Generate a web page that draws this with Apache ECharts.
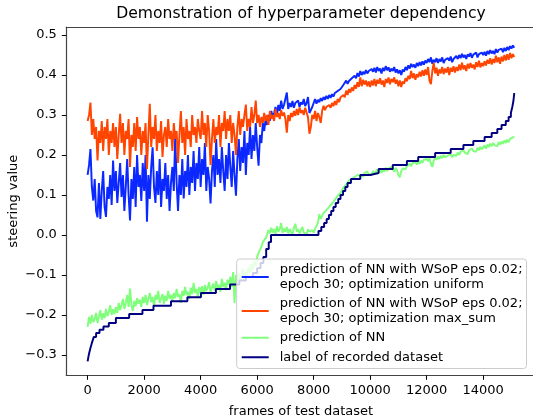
<!DOCTYPE html>
<html>
<head>
<meta charset="utf-8">
<script src="https://cdn.jsdelivr.net/npm/echarts@6/dist/echarts.min.js"></script>
<style>html,body{margin:0;padding:0;background:#fff}#c{width:533px;height:420px}</style>
</head>
<body>
<div id="c"></div>
<script>
// ---- data (sampled every 50 frames) ----
const frameStep = 50;
const xTicks = [0, 2000, 4000, 6000, 8000, 10000, 12000, 14000];
const yTicks = [-0.3, -0.2, -0.1, 0, 0.1, 0.2, 0.3, 0.4, 0.5];
const seriesNames = [
  'prediction of NN with WSoP eps 0.02;\nepoch 30; optimization uniform',
  'prediction of NN with WSoP eps 0.02;\nepoch 30; optimization max_sum',
  'prediction of NN',
  'label of recorded dataset'
];
const uniformPred = [
  0.150, 0.175, 0.215, 0.120, 0.086, 0.140, 0.060, 0.044, 0.130, 0.040, 0.110, 0.160, 0.070, 0.045, 0.120, 0.090, 0.150, 0.075, 0.186, 0.110,
  0.160, 0.080, 0.130, 0.180, 0.095, 0.150, 0.060, 0.120, 0.190, 0.100, 0.036, 0.140, 0.090, 0.170, 0.070, 0.200, 0.120, 0.150, 0.085, 0.180,
  0.110, 0.200, 0.033, 0.150, 0.090, 0.170, 0.219, 0.120, 0.080, 0.160, 0.100, 0.190, 0.070, 0.140, 0.110, 0.180, 0.090, 0.150, 0.060, 0.130,
  0.170, 0.110, 0.248, 0.130, 0.060, 0.150, 0.100, 0.190, 0.091, 0.160, 0.120, 0.200, 0.100, 0.170, 0.130, 0.210, 0.110, 0.180, 0.140, 0.220,
  0.120, 0.190, 0.150, 0.230, 0.110, 0.170, 0.140, 0.079, 0.160, 0.200, 0.120, 0.240, 0.150, 0.190, 0.130, 0.220, 0.160, 0.110, 0.200, 0.140,
  0.230, 0.170, 0.120, 0.210, 0.150, 0.098, 0.190, 0.240, 0.160, 0.220, 0.180, 0.260, 0.150, 0.230, 0.200, 0.270, 0.190, 0.250, 0.210, 0.280,
  0.220, 0.173, 0.250, 0.230, 0.280, 0.260, 0.290, 0.275, 0.300, 0.285, 0.310, 0.295, 0.305, 0.320, 0.300, 0.325, 0.310, 0.336, 0.315, 0.325,
  0.330, 0.356, 0.315, 0.330, 0.320, 0.335, 0.318, 0.330, 0.325, 0.336, 0.320, 0.332, 0.326, 0.340, 0.322, 0.330, 0.345, 0.305, 0.300, 0.320,
  0.330, 0.340, 0.328, 0.338, 0.332, 0.342, 0.335, 0.345, 0.338, 0.348, 0.340, 0.350, 0.343, 0.352, 0.346, 0.355, 0.350, 0.360, 0.355, 0.365,
  0.368, 0.375, 0.370, 0.386, 0.378, 0.385, 0.382, 0.392, 0.388, 0.398, 0.392, 0.405, 0.396, 0.410, 0.400, 0.408, 0.402, 0.412, 0.404, 0.410,
  0.405, 0.415, 0.408, 0.418, 0.406, 0.420, 0.410, 0.416, 0.404, 0.418, 0.410, 0.422, 0.412, 0.419, 0.408, 0.416, 0.410, 0.420, 0.406, 0.414,
  0.404, 0.412, 0.400, 0.414, 0.408, 0.420, 0.412, 0.424, 0.416, 0.428, 0.420, 0.426, 0.418, 0.430, 0.422, 0.432, 0.424, 0.434, 0.426, 0.436,
  0.430, 0.440, 0.432, 0.444, 0.428, 0.438, 0.432, 0.442, 0.430, 0.440, 0.434, 0.444, 0.430, 0.438, 0.434, 0.442, 0.436, 0.446, 0.432, 0.440,
  0.438, 0.448, 0.440, 0.450, 0.442, 0.453, 0.444, 0.450, 0.440, 0.452, 0.446, 0.455, 0.443, 0.451, 0.447, 0.456, 0.444, 0.452, 0.448, 0.456,
  0.450, 0.458, 0.448, 0.460, 0.452, 0.462, 0.454, 0.460, 0.452, 0.465, 0.456, 0.463, 0.458, 0.466, 0.457, 0.468, 0.460, 0.470, 0.462, 0.472,
  0.466, 0.474, 0.468
];
const maxSumPred = [
  0.285, 0.300, 0.331, 0.250, 0.290, 0.240, 0.270, 0.186, 0.260, 0.230, 0.285, 0.210, 0.270, 0.240, 0.290, 0.200, 0.260, 0.230, 0.280, 0.220,
  0.270, 0.190, 0.250, 0.303, 0.230, 0.280, 0.200, 0.260, 0.240, 0.290, 0.170, 0.250, 0.220, 0.280, 0.210, 0.295, 0.240, 0.270, 0.200, 0.260,
  0.230, 0.280, 0.165, 0.250, 0.328, 0.220, 0.270, 0.240, 0.300, 0.210, 0.260, 0.230, 0.285, 0.195, 0.250, 0.270, 0.220, 0.290, 0.240, 0.260,
  0.210, 0.280, 0.240, 0.260, 0.180, 0.250, 0.310, 0.230, 0.270, 0.200, 0.290, 0.240, 0.260, 0.220, 0.300, 0.250, 0.270, 0.230, 0.290, 0.260,
  0.240, 0.310, 0.250, 0.280, 0.220, 0.300, 0.260, 0.175, 0.240, 0.290, 0.230, 0.270, 0.250, 0.300, 0.220, 0.280, 0.260, 0.310, 0.240, 0.290,
  0.260, 0.300, 0.230, 0.280, 0.250, 0.200, 0.270, 0.310, 0.250, 0.290, 0.270, 0.300, 0.326, 0.260, 0.290, 0.270, 0.320, 0.280, 0.300, 0.336,
  0.280, 0.300, 0.270, 0.295, 0.280, 0.305, 0.285, 0.300, 0.275, 0.310, 0.290, 0.300, 0.285, 0.315, 0.295, 0.305, 0.290, 0.312, 0.298, 0.306,
  0.290, 0.256, 0.300, 0.285, 0.305, 0.295, 0.310, 0.298, 0.315, 0.300, 0.319, 0.305, 0.312, 0.300, 0.318, 0.306, 0.294, 0.253, 0.270, 0.300,
  0.290, 0.310, 0.285, 0.305, 0.295, 0.280, 0.310, 0.323, 0.312, 0.320, 0.315, 0.325, 0.318, 0.330, 0.322, 0.335, 0.325, 0.340, 0.332, 0.344,
  0.340, 0.350, 0.344, 0.361, 0.350, 0.365, 0.356, 0.369, 0.360, 0.375, 0.366, 0.382, 0.370, 0.394, 0.372, 0.388, 0.376, 0.386, 0.372, 0.384,
  0.370, 0.386, 0.374, 0.390, 0.372, 0.388, 0.378, 0.392, 0.376, 0.386, 0.370, 0.390, 0.380, 0.394, 0.377, 0.390, 0.382, 0.394, 0.378, 0.388,
  0.372, 0.386, 0.370, 0.384, 0.378, 0.392, 0.384, 0.398, 0.390, 0.410, 0.392, 0.404, 0.388, 0.402, 0.394, 0.408, 0.396, 0.412, 0.398, 0.414,
  0.400, 0.420, 0.386, 0.377, 0.410, 0.430, 0.404, 0.418, 0.398, 0.414, 0.404, 0.420, 0.402, 0.416, 0.406, 0.420, 0.400, 0.418, 0.408, 0.422,
  0.406, 0.420, 0.410, 0.426, 0.412, 0.431, 0.414, 0.424, 0.410, 0.428, 0.416, 0.430, 0.418, 0.426, 0.414, 0.432, 0.420, 0.436, 0.419, 0.430,
  0.422, 0.434, 0.424, 0.438, 0.428, 0.442, 0.426, 0.440, 0.430, 0.448, 0.432, 0.444, 0.428, 0.446, 0.434, 0.450, 0.436, 0.452, 0.438, 0.455,
  0.442, 0.452, 0.445
];
const nnPred = [
  -0.230, -0.205, -0.222, -0.200, -0.218, -0.210, -0.195, -0.220, -0.205, -0.188, -0.212, -0.196, -0.208, -0.185, -0.203, -0.192, -0.176, -0.200, -0.186, -0.198,
  -0.180, -0.195, -0.170, -0.188, -0.175, -0.160, -0.185, -0.170, -0.150, -0.180, -0.134, -0.175, -0.190, -0.165, -0.178, -0.158, -0.172, -0.162, -0.180, -0.155,
  -0.170, -0.150, -0.175, -0.160, -0.145, -0.168, -0.155, -0.180, -0.150, -0.162, -0.140, -0.170, -0.158, -0.148, -0.172, -0.152, -0.165, -0.140, -0.160, -0.150,
  -0.165, -0.145, -0.158, -0.135, -0.155, -0.148, -0.170, -0.140, -0.152, -0.130, -0.150, -0.142, -0.160, -0.132, -0.148, -0.120, -0.145, -0.135, -0.155, -0.130,
  -0.145, -0.128, -0.150, -0.125, -0.140, -0.132, -0.118, -0.145, -0.130, -0.122, -0.140, -0.115, -0.135, -0.125, -0.142, -0.110, -0.130, -0.120, -0.138, -0.112,
  -0.125, -0.105, -0.130, -0.093, -0.170, -0.100, -0.120, -0.095, -0.112, -0.100, -0.085, -0.108, -0.092, -0.100, -0.080, -0.095, -0.072, -0.088, -0.065, -0.078,
  -0.055, -0.045, -0.048, -0.030, -0.018, -0.020, -0.008, 0.000, 0.012, 0.004, 0.018, 0.006, 0.015, 0.002, 0.022, 0.008, 0.014, 0.030, 0.005, 0.016,
  0.008, 0.020, 0.004, 0.015, 0.010, 0.000, 0.018, 0.028, 0.008, 0.014, 0.004, 0.012, 0.020, 0.006, 0.010, 0.002, 0.014, 0.008, 0.004, 0.012,
  0.006, 0.015, 0.010, 0.030, 0.052, 0.040, 0.044, 0.055, 0.050, 0.062, 0.058, 0.070, 0.068, 0.078, 0.075, 0.088, 0.085, 0.098, 0.095, 0.105,
  0.110, 0.118, 0.115, 0.126, 0.124, 0.136, 0.132, 0.140, 0.138, 0.145, 0.142, 0.150, 0.145, 0.148, 0.152, 0.146, 0.155, 0.150, 0.158, 0.152,
  0.155, 0.150, 0.160, 0.152, 0.158, 0.164, 0.156, 0.162, 0.155, 0.165, 0.158, 0.168, 0.160, 0.166, 0.162, 0.170, 0.164, 0.158, 0.168, 0.162,
  0.150, 0.144, 0.160, 0.166, 0.170, 0.164, 0.172, 0.168, 0.178, 0.172, 0.180, 0.175, 0.182, 0.176, 0.184, 0.178, 0.186, 0.180, 0.188, 0.184,
  0.190, 0.184, 0.192, 0.178, 0.170, 0.186, 0.194, 0.188, 0.196, 0.190, 0.198, 0.192, 0.200, 0.194, 0.190, 0.198, 0.196, 0.202, 0.194, 0.200,
  0.204, 0.198, 0.206, 0.200, 0.208, 0.204, 0.212, 0.206, 0.210, 0.202, 0.212, 0.208, 0.216, 0.210, 0.214, 0.208, 0.218, 0.212, 0.220, 0.214,
  0.218, 0.224, 0.216, 0.226, 0.220, 0.228, 0.222, 0.230, 0.224, 0.228, 0.222, 0.232, 0.226, 0.234, 0.228, 0.236, 0.230, 0.238, 0.232, 0.240,
  0.238, 0.244, 0.246
];
// recorded label: step function, each value holds from its frame onwards
const labelFrames = [0, 40, 90, 150, 220, 300, 420, 560, 750, 1000, 1470, 1940, 2330, 2950, 3530, 4010, 4540, 5040, 5370, 5600, 5850, 6000, 6120, 6220, 6320, 6410, 6490,
  8170, 8270, 8370, 8460, 8540, 8620, 8700, 8780, 8870, 8950, 9040, 9120, 9200, 9320, 9650, 10000, 10300, 10800, 11300, 11700, 12300, 12850, 13300, 13650, 14050, 14300, 14500, 14650, 14800, 14900, 14980, 15030, 15070, 15100];
const labelValues = [-0.316, -0.300, -0.285, -0.270, -0.255, -0.245, -0.237, -0.229, -0.220, -0.2075, -0.1975, -0.1875, -0.177, -0.166, -0.156, -0.145, -0.135, -0.124, -0.114, -0.105, -0.095, -0.083, -0.070, -0.055, -0.035, -0.018, 0.000,
  0.010, 0.020, 0.030, 0.040, 0.050, 0.060, 0.070, 0.080, 0.090, 0.100, 0.110, 0.120, 0.130, 0.140, 0.150, 0.155, 0.165, 0.175, 0.185, 0.195, 0.205, 0.215, 0.225, 0.235, 0.245, 0.255, 0.265, 0.275, 0.285, 0.295, 0.305, 0.320, 0.335, 0.355];

const colors = ['#0a28ff', '#ff4500', '#80ff7c', '#000080'];
const FONT = 'DejaVu Sans';
const FS = 13;
const X_MIN = -755, X_MAX = 15855, Y_MIN = -0.351, Y_MAX = 0.52;

const toXY = arr => arr.map((v, i) => [i * frameStep, v]);
const chart = echarts.init(document.getElementById('c'), null, {renderer: 'canvas'});
const lineS = (name, data, color, extra) => Object.assign({
  type: 'line', name, data, showSymbol: false, symbol: 'none', xAxisIndex: 0, yAxisIndex: 0,
  lineStyle: {color, width: 1.95}, itemStyle: {color}, animation: false
}, extra || {});
const spine = {show: true, onZero: false, lineStyle: {color: '#444', width: 1.2}};

chart.setOption({
  animation: false,
  title: {
    text: 'Demonstration of hyperparameter dependency',
    left: 301, top: 6, textAlign: 'center', padding: 0,
    textStyle: {fontFamily: FONT, fontSize: 15.6, fontWeight: 'normal', color: '#000'}
  },
  grid: {left: 66.3, top: 27, width: 469.3, height: 348.3, show: false, containLabel: false, outerBoundsMode: 'none'},
  legend: {
    orient: 'vertical', left: 236.7, top: 259,
    padding: [3.5, 4, 4, 5], itemGap: 5, itemWidth: 27, itemHeight: 2,
    backgroundColor: 'rgba(255,255,255,0.8)', borderColor: '#cccccc', borderWidth: 1, borderRadius: 3,
    selectedMode: false,
    textStyle: {fontFamily: FONT, fontSize: FS, lineHeight: 14.5, color: '#000', padding: [0, 0, 0, 6]},
    data: seriesNames.map(n => ({name: n, icon: 'rect'}))
  },
  xAxis: [{
    type: 'value', min: X_MIN, max: X_MAX, position: 'bottom',
    name: 'frames of test dataset', nameLocation: 'middle', nameGap: 30, nameMoveOverlap: false,
    nameTextStyle: {fontFamily: FONT, fontSize: FS, color: '#000'},
    axisLine: spine,
    axisTick: {show: true, length: 4.5, lineStyle: {color: '#000', width: 1}, customValues: xTicks},
    axisLabel: {fontFamily: FONT, fontSize: FS, color: '#000', margin: 9, customValues: xTicks, formatter: v => String(v)},
    splitLine: {show: false}
  }, {
    type: 'value', min: X_MIN, max: X_MAX, position: 'top',
    axisLine: spine, axisTick: {show: false}, axisLabel: {show: false}, splitLine: {show: false}
  }],
  yAxis: {
    type: 'value', min: Y_MIN, max: Y_MAX, position: 'left',
    name: 'steering value', nameLocation: 'middle', nameGap: 46, nameMoveOverlap: false,
    nameTextStyle: {fontFamily: FONT, fontSize: FS, color: '#000'},
    axisLine: spine,
    axisTick: {show: true, length: 4.5, lineStyle: {color: '#000', width: 1}, customValues: yTicks},
    axisLabel: {fontFamily: FONT, fontSize: FS, color: '#000', margin: 9.5, customValues: yTicks,
      formatter: v => (v < -1e-9 ? '\u2212' : '') + Math.abs(v).toFixed(1)},
    splitLine: {show: false}
  },
  series: [
    lineS(seriesNames[0], toXY(uniformPred), colors[0]),
    lineS(seriesNames[1], toXY(maxSumPred), colors[1]),
    lineS(seriesNames[2], toXY(nnPred), colors[2]),
    lineS(seriesNames[3], labelFrames.map((f, i) => [f, labelValues[i]]), colors[3], {step: 'end'})
  ]
});
</script>
</body>
</html>
